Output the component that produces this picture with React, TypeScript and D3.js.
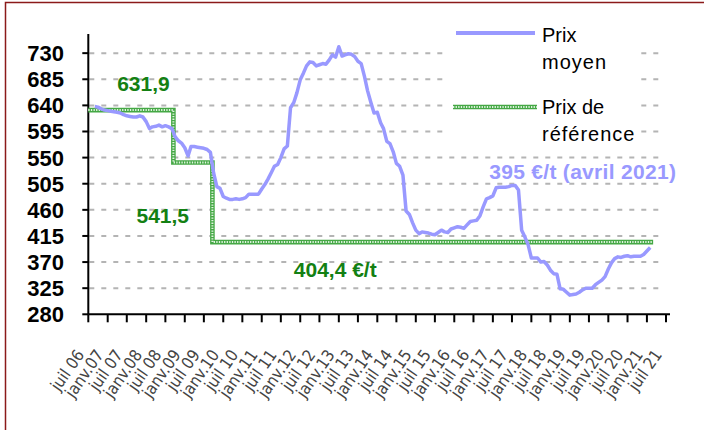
import * as d3 from 'd3';

// Prix moyen mensuel (€/t), de sept. 2006 à fév. 2021
const prixStart = new Date(2006, 8, 1);
const prixMoyen = [
  638, 637, 634, 632, 631, 630, 629, 628, 627, 624,
  622, 621, 620, 620, 622, 620, 612, 600, 603, 604,
  606, 603, 605, 603, 600, 586, 579, 575, 567, 553,
  569, 569, 568, 567, 566, 564, 559, 524, 500, 497,
  483, 480, 478, 478, 479, 478, 479, 481, 487, 487,
  487, 487, 496, 504, 513, 524, 535, 538, 550, 565,
  570, 636, 645, 662, 684, 696, 708, 715, 714, 708,
  710, 712, 711, 718, 727, 723, 741, 725, 727, 729,
  728, 724, 716, 712, 690, 665, 645, 627, 628, 610,
  600, 578, 574, 560, 540, 535, 520, 458, 452, 438,
  425, 419, 422, 421, 420, 418, 417, 421, 425, 422,
  421, 427, 429, 431, 430, 428, 434, 440, 441, 442,
  450, 465, 479, 481, 484, 498, 499, 499, 499, 500,
  502, 502, 494, 425, 413, 400, 377, 377, 377, 370,
  371, 365, 356, 350, 349, 324, 323, 318, 313, 314,
  315, 318, 322, 325, 325, 325, 331, 335, 339, 345,
  358, 369, 376, 379, 378, 380, 381, 379, 380, 380,
  380, 383, 389, 395,
];

// Prix de référence : paliers
const refDates = ['2006-07-01', '2008-09-15', '2009-09-20', '2021-03-01'];
const refValues = [631.9, 541.5, 404.4];

const yTicks = [280, 325, 370, 415, 460, 505, 550, 595, 640, 685, 730];

const xTickLabels = [
  'juil 06', 'janv.07', 'juil 07', 'janv.08', 'juil 08', 'janv.09', 'juil 09',
  'janv.10', 'juil 10', 'janv.11', 'juil 11', 'janv.12', 'juil 12', 'janv.13',
  'juil 13', 'janv.14', 'juil 14', 'janv.15', 'juil 15', 'janv.16', 'juil 16',
  'janv.17', 'juil 17', 'janv.18', 'juil 18', 'janv.19', 'juil 19', 'janv.20',
  'juil 20', 'janv.21', 'juil 21',
];

const BLUE = '#9999ff';
const GREEN = '#45a845';
const DARK_GREEN = '#138013';

function App() {
  const width = 704;
  const height = 430;

  const x = d3
    .scaleTime()
    .domain([new Date(2006, 6, 1), new Date(2021, 6, 1)])
    .range([88.3, 666]);
  const y = d3.scaleLinear().domain([280, 763]).range([314.3, 34]);

  const xTicks = xTickLabels.map((_, i) => d3.timeMonth.offset(new Date(2006, 6, 1), i * 6));

  const prixPts = prixMoyen.map((v, i) => ({ d: d3.timeMonth.offset(prixStart, i), v }));
  const prixLine = d3
    .line<{ d: Date; v: number }>()
    .x((p) => x(p.d))
    .y((p) => y(p.v));

  const refPts = refDates.map((d, i) => ({
    d: new Date(d),
    v: refValues[Math.min(i, refValues.length - 1)],
  }));
  const refLine = d3
    .line<{ d: Date; v: number }>()
    .curve(d3.curveStepAfter)
    .x((p) => x(p.d))
    .y((p) => y(p.v));

  const x0 = x.range()[0];
  const y0 = y.range()[0];
  const last = prixPts[prixPts.length - 1];

  return (
    <svg width={width} height={height} style={{ position: 'absolute', left: 0, top: 0 }}>
      <rect x={0} y={0} width={width} height={height} fill="white" />
      <rect x={5.5} y={2.5} width={720} height={450} fill="none" stroke="#8b1a1a" strokeWidth={1.5} />

      {/* grille */}
      {yTicks.slice(1).map((t) => (
        <line
          key={t}
          x1={x0 + 1}
          x2={665}
          y1={y(t)}
          y2={y(t)}
          stroke="#b4b4b4"
          strokeWidth={2}
          strokeDasharray="5,7"
        />
      ))}

      {/* fond de la légende */}
      <rect x={448} y={22} width={192} height={122} fill="white" />

      {/* axes */}
      <line x1={x0} x2={x0} y1={34} y2={y0} stroke="black" strokeWidth={2} />
      <line x1={x0} x2={670} y1={y0} y2={y0} stroke="black" strokeWidth={2} />
      {yTicks.map((t) => (
        <g key={t}>
          <line x1={x0 - 6} x2={x0} y1={y(t)} y2={y(t)} stroke="black" strokeWidth={2} />
          <text
            x={64}
            y={y(t) + 8}
            textAnchor="end"
            fontFamily="Liberation Sans, Arial, sans-serif"
            fontWeight="bold"
            fontSize={22}
            fill="black"
          >
            {t}
          </text>
        </g>
      ))}
      {xTicks.map((d, i) => (
        <g key={i}>
          <line x1={x(d)} x2={x(d)} y1={y0} y2={y0 + 8} stroke="black" strokeWidth={2} />
          <text
            transform={`translate(${x(d) - 7},${y0 + 38}) rotate(-55)`}
            textAnchor="end"
            dominantBaseline="middle"
            fontFamily="Liberation Sans Narrow, DejaVu Sans Condensed, Arial Narrow, sans-serif"
            fontSize={16.5}
            fill="#444"
          >
            {xTickLabels[i]}
          </text>
        </g>
      ))}

      {/* séries */}
      <path d={refLine(refPts) ?? ''} fill="none" stroke={GREEN} strokeWidth={4.6} />
      <path
        d={refLine(refPts) ?? ''}
        fill="none"
        stroke="#e2f4e2"
        strokeWidth={2}
        strokeDasharray="1.3,1.3"
      />
      <path
        d={prixLine(prixPts) ?? ''}
        fill="none"
        stroke={BLUE}
        strokeWidth={3.5}
        strokeLinejoin="round"
      />

      {/* annotations */}
      <g fontFamily="Liberation Sans, Arial, sans-serif" fontWeight="bold" fontSize={21}>
        <text x={x(new Date(2007, 3, 1))} y={y(refValues[0]) - 19} fill={DARK_GREEN}>
          631,9
        </text>
        <text x={x(new Date(2007, 9, 1))} y={y(refValues[1]) + 60} fill={DARK_GREEN}>
          541,5
        </text>
        <text x={x(new Date(2011, 10, 1))} y={y(refValues[2]) + 35} fill={DARK_GREEN}>
          404,4 €/t
        </text>
        <text
          x={x(last.d) + 26}
          y={y(last.v) - 69}
          textAnchor="end"
          fill={BLUE}
          letterSpacing={0.3}
        >
          395 €/t (avril 2021)
        </text>
      </g>

      {/* légende */}
      <g fontFamily="Liberation Sans, Arial, sans-serif" fontSize={20} fill="black">
        <line x1={456} x2={535} y1={33} y2={33} stroke={BLUE} strokeWidth={4} />
        <text x={542} y={42}>Prix</text>
        <text x={542} y={69} letterSpacing={1}>moyen</text>
        <line x1={453} x2={537} y1={107} y2={107} stroke={GREEN} strokeWidth={4.6} />
        <line
          x1={453}
          x2={537}
          y1={107}
          y2={107}
          stroke="#e2f4e2"
          strokeWidth={2}
          strokeDasharray="1.3,1.3"
        />
        <text x={542} y={114}>Prix de</text>
        <text x={542} y={141} letterSpacing={1}>référence</text>
      </g>
    </svg>
  );
}

export default App;
